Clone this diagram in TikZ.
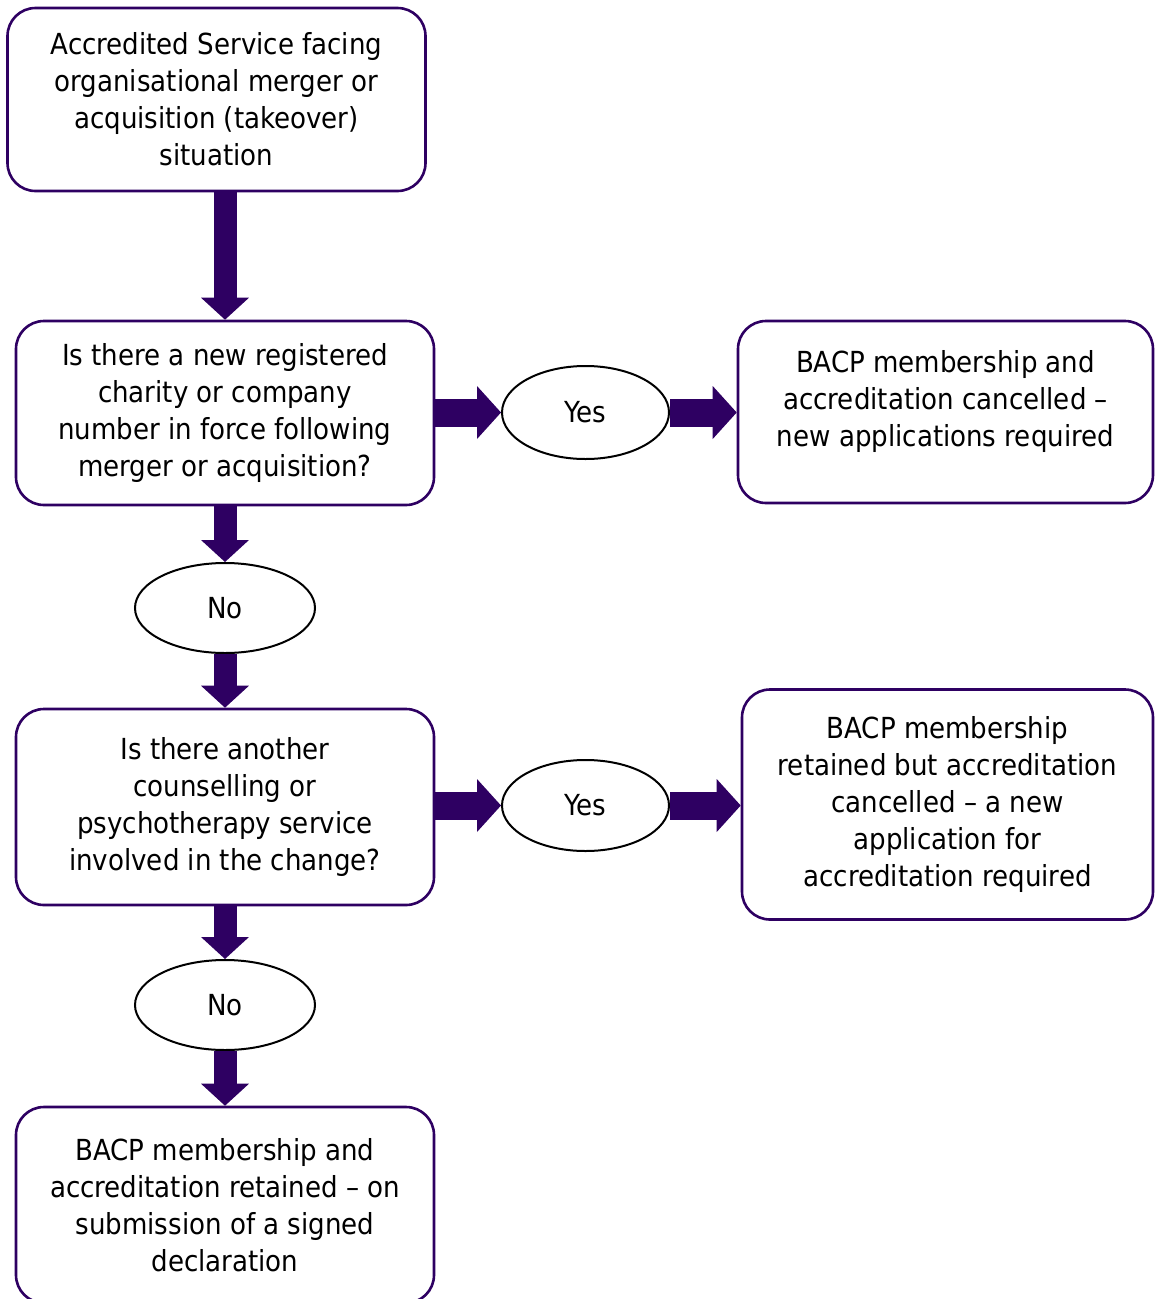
\documentclass[tikz,border=0pt]{standalone}
\usepackage{fontspec}
\IfFontExistsTF{DejaVu Sans Condensed}
  {\setmainfont{DejaVu Sans Condensed}\newcommand\boxfont{\fontsize{16.5}{21}\selectfont}}
  {\setmainfont{DejaVu Sans}\newcommand\boxfont{\fontsize{14.9}{21}\selectfont}}
\usepackage{tikz}
\usetikzlibrary{positioning,arrows.meta,shapes.geometric}
\usepackage{xcolor}
\definecolor{bacppurple}{RGB}{46,0,98}
\newlength\pxl
\setlength\pxl{0.02cm}

\begin{document}
\begin{tikzpicture}[x=0.02cm,y=-0.02cm,every node/.style={font=\boxfont},
  stepbox/.style={draw=bacppurple,line width=2.6\pxl,rounded corners=28\pxl,
    align=center,inner sep=0pt,minimum width=418\pxl},
  answer/.style={draw,ellipse,line width=2\pxl,inner sep=0pt},
  downarrow/.style={draw=bacppurple,line width=23\pxl,
    -{Triangle[width=0.96cm,length=0.44cm,line width=0pt]}},
  sidearrow/.style={draw=bacppurple,line width=28\pxl,
    -{Triangle[width=1.06cm,length=0.48cm,line width=0pt]}}]
  \useasboundingbox (0,0) rectangle (1154,1299);

  \node[stepbox,minimum height=183\pxl] (start) at (216.5,99.5)
    {Accredited Service facing\\organisational merger or\\acquisition (takeover)\\situation};
  \node[stepbox,minimum height=184\pxl] (newnum) at (225,413)
    {Is there a new registered\\charity or company\\number in force following\\merger or acquisition?};
  \node[answer,minimum width=167\pxl,minimum height=93\pxl] (yesA) at (585.5,412.5) {Yes};
  \node[stepbox,minimum width=415\pxl,minimum height=182\pxl] (cancelA) at (945.5,412)
    {BACP membership and\\accreditation cancelled \textendash\\new applications required\rule[-27\pxl]{0pt}{0pt}};
  \node[answer,minimum width=180\pxl,minimum height=90\pxl] (noA) at (225,608) {No};

  \node[stepbox,minimum height=196\pxl] (other) at (225,807)
    {Is there another\\counselling or\\psychotherapy service\\involved in the change?};
  \node[answer,minimum width=167\pxl,minimum height=91\pxl] (yesB) at (585.5,805.5) {Yes};
  \node[stepbox,minimum width=411\pxl,minimum height=230\pxl] (cancelB) at (947.5,804.5)
    {BACP membership\\retained but accreditation\\cancelled \textendash{} a new\\application for\\accreditation required};
  \node[answer,minimum width=180\pxl,minimum height=90\pxl] (noB) at (225,1005) {No};

  \node[stepbox,minimum height=196\pxl] (retain) at (225,1205)
    {BACP membership and\\accreditation retained \textendash{} on\\submission of a signed\\declaration};

  \draw[downarrow] (newnum.north |- start.south) -- (newnum.north);
  \draw[sidearrow] (newnum.east |- yesA.west) -- (yesA.west);
  \draw[sidearrow] (yesA.east) -- (cancelA.west |- yesA.east);
  \draw[downarrow] (newnum.south) -- (noA.north);
  \draw[downarrow] (noA.south) -- (other.north);
  \draw[sidearrow] (other.east |- yesB.west) -- (yesB.west);
  \draw[sidearrow] (yesB.east) -- (cancelB.west |- yesB.east);
  \draw[downarrow] (other.south) -- (noB.north);
  \draw[downarrow] (noB.south) -- (retain.north);
\end{tikzpicture}
\end{document}
